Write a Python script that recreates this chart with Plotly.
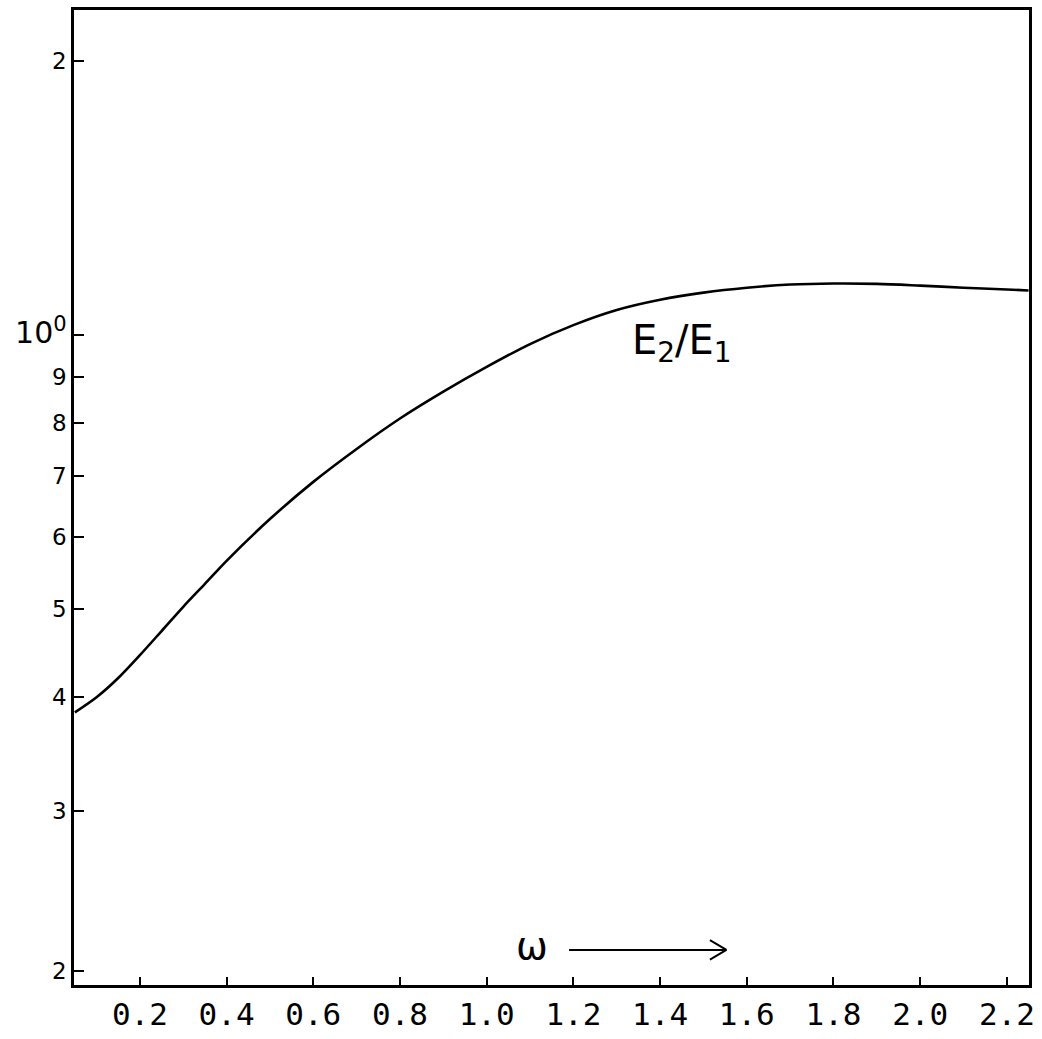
import numpy as np
import plotly.graph_objects as go

# Data
omega = [0.05, 0.10, 0.15, 0.20, 0.25, 0.30, 0.35, 0.40, 0.50, 0.60, 0.70, 0.80, 0.90, 1.00,
         1.10, 1.20, 1.30, 1.40, 1.50, 1.60, 1.70, 1.80, 1.90, 2.00, 2.10, 2.20, 2.25]
ratio = [0.385, 0.400, 0.420, 0.445, 0.473, 0.503, 0.533, 0.565, 0.628, 0.690, 0.750, 0.810, 0.867, 0.923,
         0.978, 1.026, 1.066, 1.094, 1.114, 1.128, 1.137, 1.140, 1.139, 1.134, 1.128, 1.123, 1.120]

x_tickvals = [0.2, 0.4, 0.6, 0.8, 1.0, 1.2, 1.4, 1.6, 1.8, 2.0, 2.2]
x_ticktext = ["0.2", "0.4", "0.6", "0.8", "1.0", "1.2", "1.4", "1.6", "1.8", "2.0", "2.2"]
y_tickvals = [0.2, 0.3, 0.4, 0.5, 0.6, 0.7, 0.8, 0.9, 1.0, 2.0]
y_ticktext = ["2", "3", "4", "5", "6", "7", "8", "9",
              "<span style='font-size:30px'>10<sup>0</sup></span>", "2"]

curve_label = "E<sub>2</sub>/E<sub>1</sub>"
x_label = "ω"

FONT = "DejaVu Sans"
MONO = "DejaVu Sans Mono"

fig = go.Figure()
fig.add_trace(go.Scatter(x=omega, y=ratio, mode="lines",
                         line=dict(color="black", width=2.6, shape="spline", smoothing=0.9),
                         showlegend=False, hoverinfo="skip"))

fig.update_layout(
    width=1042, height=1039,
    margin=dict(l=74, r=12, t=7, b=54),
    paper_bgcolor="white", plot_bgcolor="white",
    font=dict(family=FONT, color="black"),
    showlegend=False,
)

fig.update_xaxes(
    range=[0.048, 2.251], showgrid=False, zeroline=False,
    showline=True, linecolor="black", linewidth=2.5, mirror=True,
    tickmode="array", tickvals=x_tickvals, ticktext=x_ticktext,
    ticks="inside", ticklen=8, tickwidth=2, tickcolor="black",
    tickfont=dict(family=MONO, size=31, color="black"),
)
fig.update_yaxes(
    type="log", range=[np.log10(0.1931), np.log10(2.278)],
    showgrid=False, zeroline=False,
    showline=True, linecolor="black", linewidth=2.5, mirror=True,
    tickmode="array", tickvals=y_tickvals, ticktext=y_ticktext,
    ticks="inside", ticklen=10, tickwidth=2, tickcolor="black",
    tickfont=dict(family=FONT, size=23, color="black"),
)

# curve label
fig.add_annotation(x=1.45, y=np.log10(1.0) - 0.008, xref="x", yref="y",
                   text=curve_label, showarrow=False,
                   font=dict(family=FONT, size=40, color="black"))

# omega with arrow
y_arrow = 0.211
fig.add_annotation(x=1.105, y=np.log10(y_arrow) + 0.004, xref="x", yref="y", text=x_label,
                   showarrow=False, font=dict(family=FONT, size=38, color="black"))
fig.add_shape(type="line", xref="x", yref="y", x0=1.19, x1=1.553, y0=y_arrow, y1=y_arrow,
              line=dict(color="black", width=2))
fig.add_shape(type="line", xref="x", yref="y", x0=1.515, x1=1.553,
              y0=y_arrow * 1.025, y1=y_arrow, line=dict(color="black", width=2))
fig.add_shape(type="line", xref="x", yref="y", x0=1.515, x1=1.553,
              y0=y_arrow / 1.025, y1=y_arrow, line=dict(color="black", width=2))

fig.write_html("out.html")
